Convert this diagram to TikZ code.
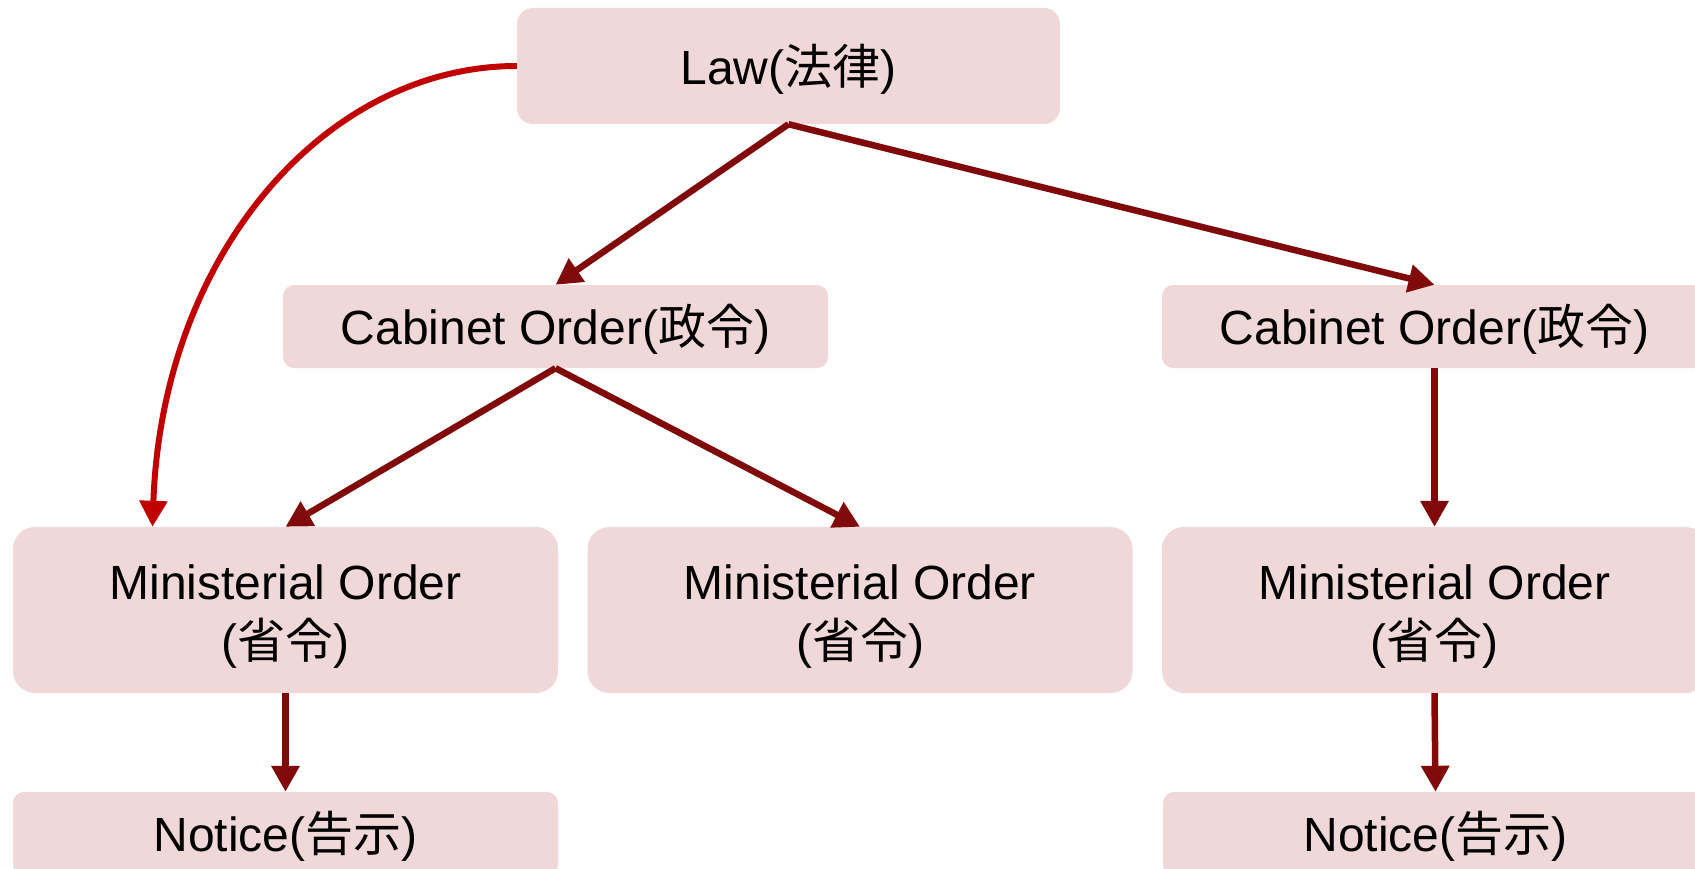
\documentclass[tikz,border=0pt]{standalone}
\usepackage{fontspec}
\setmainfont{Liberation Sans}
\newfontfamily\cjk{Noto Sans CJK JP}
\usetikzlibrary{arrows.meta,calc}
\definecolor{boxfill}{HTML}{F0D7D8}
\definecolor{arrdark}{HTML}{800A0A}
\definecolor{arrred}{HTML}{C00000}
\begin{document}
\begin{tikzpicture}[x=1pt,y=-1pt,
  box/.style={fill=boxfill, draw=none, inner sep=0pt, align=center,
    font=\fontsize{48}{59}\selectfont, minimum width=545pt},
  lbl/.style={inner sep=0pt, align=center, font=\fontsize{48}{59}\selectfont},
  conn/.style={draw=arrdark, line width=6.5pt,
    -{Triangle[length=26pt,width=27pt]}},
  curvy/.style={draw=arrred, line width=6pt,
    -{Triangle[length=26pt,width=27pt]}}]
\useasboundingbox (0,0) rectangle (1695,869);
\node[box, minimum width=543pt, minimum height=116pt, rounded corners=16pt] (law) at (788.5,66) {};
\node[lbl] (lawT) at ($(law.center)+(0,3)$) {Law({\cjk 法律})};
\node[box, minimum height=83pt, rounded corners=11pt] (cabL) at (555.5,326.5) {};
\node[lbl] (cabLT) at ($(cabL.center)+(0,3)$) {Cabinet Order({\cjk 政令})};
\node[box, minimum height=83pt, rounded corners=11pt] (cabR) at (1434.5,326.5) {};
\node[lbl] (cabRT) at ($(cabR.center)+(0,3)$) {Cabinet Order({\cjk 政令})};
\node[box, minimum height=166pt, rounded corners=22pt] (minL) at (285.5,610) {};
\node[lbl] (minLT) at ($(minL.center)+(0,7)$) {Ministerial Order\\({\cjk 省令})};
\node[box, minimum height=166pt, rounded corners=22pt] (minM) at (860,610) {};
\node[lbl] (minMT) at ($(minM.center)+(0,7)$) {Ministerial Order\\({\cjk 省令})};
\node[box, minimum height=166pt, rounded corners=22pt] (minR) at (1434.5,610) {};
\node[lbl] (minRT) at ($(minR.center)+(0,7)$) {Ministerial Order\\({\cjk 省令})};
\node[box, minimum height=83pt, rounded corners=11pt] (notL) at (285.5,833.5) {};
\node[lbl] (notLT) at ($(notL.center)+(0,3)$) {Notice({\cjk 告示})};
\node[box, minimum height=83pt, rounded corners=11pt] (notR) at (1435.5,833.5) {};
\node[lbl] (notRT) at ($(notR.center)+(0,3)$) {Notice({\cjk 告示})};
\coordinate (curveEnd) at ($(minL.north)+(-133,0)$);
\draw[conn] (law.south) -- (cabL.north);
\draw[conn] (law.south) -- (cabR.north);
\draw[conn] (cabL.south) -- (minL.north);
\draw[conn] (cabL.south) -- (minM.north);
\draw[conn] (cabR.south) -- (minR.north);
\draw[conn] (minL.south) -- (notL.north);
\draw[conn] (minR.south) -- (notR.north);
\draw[curvy] (law.west) .. controls (325,66) and (162,255) .. (curveEnd);
\end{tikzpicture}
\end{document}
